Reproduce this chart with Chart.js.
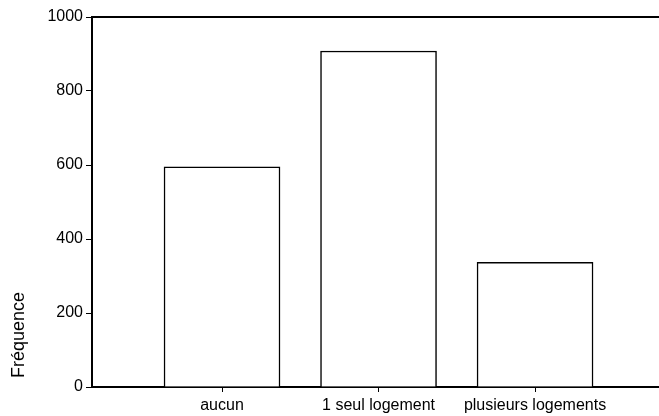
<!DOCTYPE html>
<html>
<head>
<meta charset="utf-8">
<script src="https://cdn.jsdelivr.net/npm/chart.js@4"></script>
<style>
  body { margin: 0; background: #fff; }
  #wrap { width: 659px; height: 416px; position: relative; }
</style>
</head>
<body>
<div id="wrap"><canvas id="chart"></canvas></div>
<script>
const categories = ["aucun", "1 seul logement", "plusieurs logements"];
const frequencies = [595, 908, 337];
const yTicks = [0, 200, 400, 600, 800, 1000];
const yTitle = "Fréquence";

const FONT = "'Liberation Sans', Arial, sans-serif";

// y axis title sits low on the left, drawn by hand
const titlePlugin = {
  id: "lowTitle",
  afterDraw(chart) {
    const ctx = chart.ctx;
    ctx.save();
    ctx.font = "18px " + FONT;
    ctx.fillStyle = "#000";
    ctx.textAlign = "left";
    ctx.textBaseline = "middle";
    ctx.translate(19, 378);
    ctx.rotate(-Math.PI / 2);
    ctx.fillText(yTitle, 0, 0);
    ctx.restore();
  }
};

new Chart(document.getElementById("chart"), {
  type: "bar",
  data: {
    datasets: [{
      data: frequencies.map((v, i) => ({ x: i, y: v })),
      backgroundColor: "#fff",
      borderColor: "#000",
      borderWidth: 1.5,
      barThickness: 116
    }]
  },
  options: {
    responsive: true,
    maintainAspectRatio: false,
    animation: false,
    layout: { padding: { top: 17, right: 0, left: 0, bottom: 0 } },
    plugins: { legend: { display: false }, tooltip: { enabled: false } },
    scales: {
      x: {
        type: "linear",
        position: "bottom",
        offset: false,
        min: -0.8307,
        max: 2.792,
        afterBuildTicks: s => { s.ticks = categories.map((c, i) => ({ value: i })); },
        afterFit: s => { s.height = 29; },
        ticks: {
          color: "#000",
          font: { family: FONT, size: 16 },
          padding: 4,
          maxRotation: 0,
          autoSkip: false,
          callback: v => categories[v]
        },
        grid: { offset: false, drawOnChartArea: false, tickLength: 5, tickColor: "#000", tickWidth: 1 },
        border: { color: "#000", width: 2 }
      },
      x2: {
        type: "linear",
        position: "top",
        min: 0,
        max: 1,
        ticks: { display: false },
        grid: { display: false },
        border: { color: "#000", width: 2 },
        afterFit: s => { s.height = 0; }
      },
      y: {
        min: 0,
        max: 1000,
        afterBuildTicks: s => { s.ticks = yTicks.map(v => ({ value: v })); },
        afterFit: s => { s.width = 92; },
        ticks: {
          color: "#000",
          font: { family: FONT, size: 16 },
          padding: 3,
          callback: v => String(v)
        },
        grid: { drawOnChartArea: false, tickLength: 6, tickColor: "#000", tickWidth: 1 },
        border: { color: "#000", width: 2 }
      }
    }
  },
  plugins: [titlePlugin]
});
</script>
</body>
</html>
